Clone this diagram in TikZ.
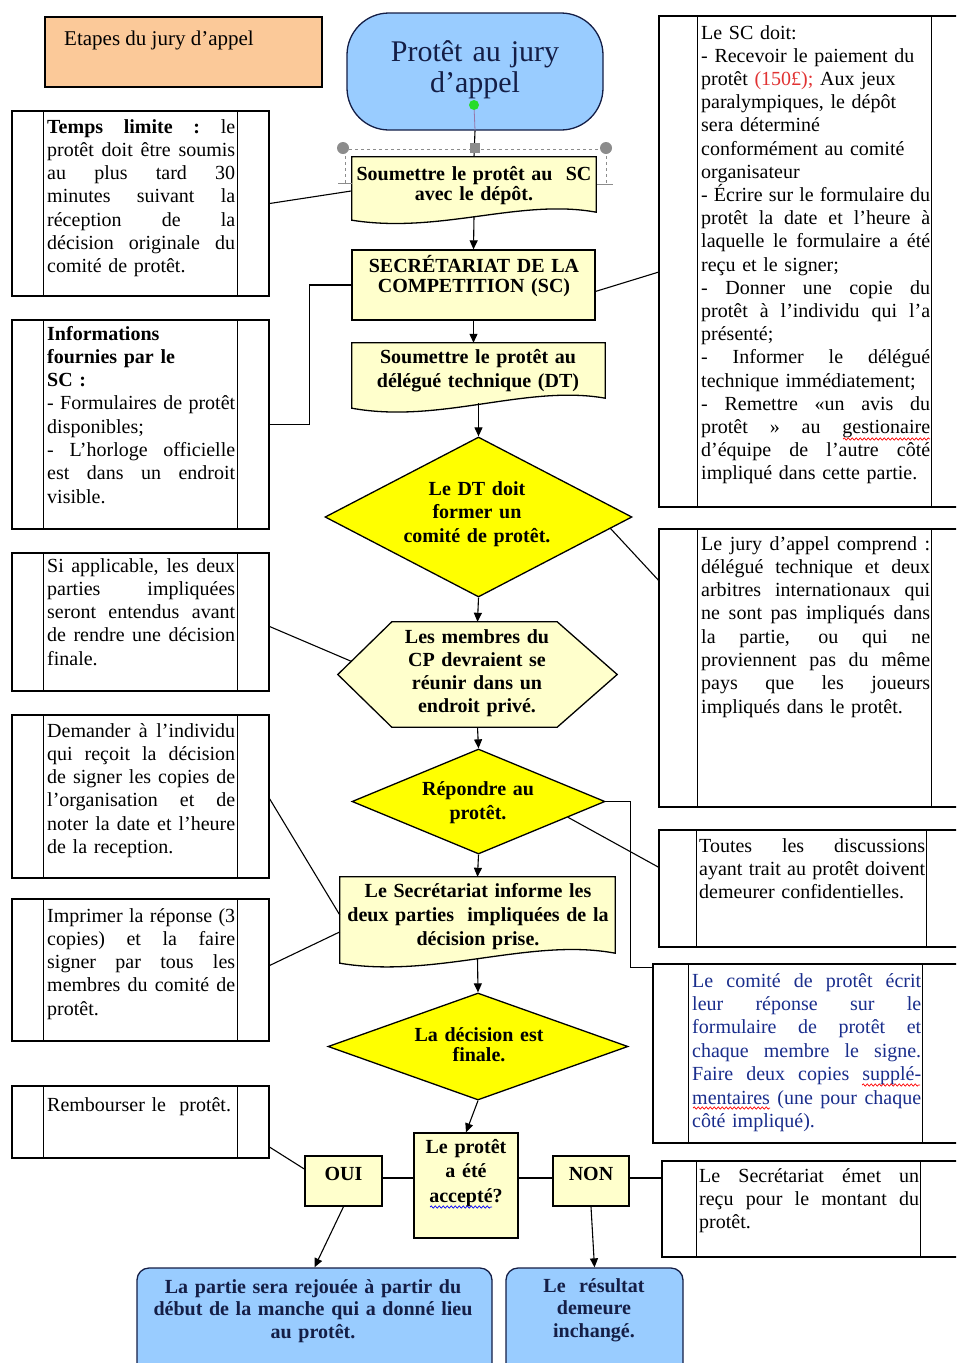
\documentclass[tikz,border=0pt]{standalone}
\usepackage{fontspec}
\setmainfont{Liberation Serif}
\usetikzlibrary{arrows.meta,calc,shapes.geometric,decorations.pathmorphing}
\definecolor{lyel}{RGB}{255,255,204}
\definecolor{dyel}{RGB}{255,255,0}
\definecolor{lblue}{RGB}{153,204,255}
\definecolor{peach}{RGB}{251,201,153}
\definecolor{navy}{RGB}{20,30,70}
\definecolor{bluetxt}{RGB}{25,45,140}
\definecolor{redtxt}{RGB}{225,50,50}
\definecolor{hdlgray}{RGB}{140,140,140}
\definecolor{gdotcol}{RGB}{40,220,40}
\definecolor{violet}{RGB}{150,120,170}
\newcommand\fsz[2]{\fontsize{#1}{#2}\selectfont}
\def\jwid{188pt}
\newcommand\jl[1]{\leavevmode\hbox to \jwid{\spaceskip=0.25em plus 1fil\relax\xspaceskip=0.25em plus 1fil\relax #1}}
\tikzset{
  shp/.style={draw=black, line width=1.3pt, fill=lyel, inner sep=0pt},
  dia/.style={diamond, draw=black, line width=1.3pt, fill=dyel, inner sep=0pt},
  bluebox/.style={draw=navy, line width=1.3pt, fill=lblue, rounded corners=12pt, inner sep=0pt},
  notebox/.style={draw=black, line width=1.2pt, fill=white, inner sep=0pt},
  notel/.style={line width=1.2pt},
  ntext/.style={anchor=base west, inner sep=0pt, align=left, text width=#1, font=\fsz{20}{23.3}, execute at begin node={\def\jwid{#1}}},
  ctext/.style 2 args={anchor=base, inner sep=0pt, align=center, text width=#2, font=\bfseries\fsz{20}{#1}},
  conn/.style={draw=black, line width=1.1pt},
  arr/.style={conn, -{Triangle[length=9pt,width=8pt]}},
  hdl/.style={draw=hdlgray, line width=0.8pt},
  redwave/.style={draw=red, line width=0.7pt, decorate, decoration={snake, amplitude=1.1pt, segment length=4pt}},
  bluewave/.style={draw=blue, line width=0.7pt, decorate, decoration={snake, amplitude=1.1pt, segment length=4pt}},
}
\begin{document}
\begin{tikzpicture}[x=1pt,y=-1pt]
\useasboundingbox (0,0) rectangle (956,1363);
\fill[white] (0,0) rectangle (956,1363);
\clip (0,0) rectangle (956,1363);

% ---------- title ----------
\node[draw=black, line width=1.3pt, fill=peach, minimum width=277, minimum height=70, inner sep=0pt] (title) at (183.5,52) {};
\node[anchor=base west, inner sep=0pt, font=\fsz{21}{24}] (titlet) at (64,45) {Etapes du jury d’appel};

% ---------- start ----------
\node[draw=navy, line width=1.3pt, fill=lblue, rounded corners=42pt, minimum width=256, minimum height=117, inner sep=0pt] (start) at (475,71.5) {};
\node[anchor=base, inner sep=0pt, align=center, text width=250pt, font=\fsz{30}{31}, text=navy] (startt) at (475,61) {Protêt au jury\\d’appel};

% ---------- central column ----------
\node[inner sep=0pt, minimum width=244, minimum height=55] (b1) at (474,184.5) {};
\draw[shp] (b1.north west) -- (b1.north east) -- (b1.south east) .. controls +(-76,-14) and +(88,14) .. ([yshift=-8pt]b1.south west) -- cycle;
\node[ctext={20}{240pt}] (b1t) at (474,180) {Soumettre le protêt au~ SC\\avec le dépôt.};

\node[shp, minimum width=243, minimum height=70] (b2) at (473.5,285) {};
\node[ctext={20}{240pt}] (b2t) at (474,272) {SECRÉTARIAT DE LA\\COMPETITION (SC)};

\node[inner sep=0pt, minimum width=253, minimum height=55] (b3) at (478.5,370.5) {};
\draw[shp] (b3.north west) -- (b3.north east) -- (b3.south east) .. controls +(-79,-14) and +(88,16) .. ([yshift=-10pt]b3.south west) -- cycle;
\node[ctext={24}{250pt}] (b3t) at (478,363) {Soumettre le protêt au\\délégué technique (DT)};

\node[dia, minimum width=307, minimum height=160] (d1) at (478.5,517) {};
\node[ctext={23.5}{200pt}] (d1t) at (477,495) {Le DT doit\\former un\\comité de protêt.};

\node[inner sep=0pt, minimum width=279, minimum height=105] (hx) at (477.5,674.5) {};
\draw[shp] (hx.west) -- ([xshift=54pt]hx.north west) -- ([xshift=-60pt]hx.north east) -- (hx.east) -- ([xshift=-60pt]hx.south east) -- ([xshift=54pt]hx.south west) -- cycle;
\node[ctext={23}{200pt}] (hxt) at (477,643) {Les membres du\\CP devraient se\\réunir dans un\\endroit privé.};

\node[dia, minimum width=253, minimum height=105] (d2) at (478.5,801.5) {};
\node[ctext={24.5}{180pt}] (d2t) at (478,795) {Répondre au\\protêt.};

\node[inner sep=0pt, minimum width=275, minimum height=76] (b5) at (477.5,915) {};
\draw[shp] (b5.north west) -- (b5.north east) -- (b5.south east) .. controls +(-85,-16) and +(95,16) .. ([yshift=-10pt]b5.south west) -- cycle;
\node[ctext={24}{272pt}] (b5t) at (478,897) {Le Secrétariat informe les\\deux parties~ impliquées de la\\décision prise.};

\node[dia, minimum width=300, minimum height=107] (d3) at (478,1046.5) {};
\node[ctext={20.5}{200pt}] (d3t) at (479,1041) {La décision est\\finale.};

\node[shp, minimum width=104, minimum height=105] (acc) at (466,1185.5) {};
\node[ctext={24.5}{100pt}] (acct) at (466,1153) {Le protêt\\a été\\accepté?};

\node[shp, minimum width=77, minimum height=50] (oui) at (343.5,1181) {};
\node[ctext={20}{70pt}] (ouit) at (343.5,1180) {OUI};
\node[shp, minimum width=76, minimum height=50] (non) at (591,1181) {};
\node[ctext={20}{70pt}] (nont) at (591,1180) {NON};

\node[bluebox, minimum width=355, minimum height=110] (bl1) at (314.5,1323) {};
\node[ctext={22.5}{350pt}, text=navy] (bl1t) at (313,1293) {La partie sera rejouée à partir du\\début de la manche qui a donné lieu\\au protêt.};
\node[bluebox, minimum width=177, minimum height=110] (bl2) at (594.5,1323) {};
\node[ctext={22.5}{170pt}, text=navy] (bl2t) at (594,1292) {Le~ résultat\\demeure\\inchangé.};

% ---------- left notes ----------
\node[notebox, minimum width=257, minimum height=185] (tb) at (140.5,203.5) {};
\node[notebox, minimum width=257, minimum height=209] (ib) at (140.5,424.5) {};
\node[notebox, minimum width=257, minimum height=138] (sb) at (140.5,622) {};
\node[notebox, minimum width=257, minimum height=163] (db) at (140.5,796.5) {};
\node[notebox, minimum width=257, minimum height=142] (pb) at (140.5,970) {};
\node[notebox, minimum width=257, minimum height=72] (rb) at (140.5,1122) {};
\foreach \n in {tb,ib,sb,db,pb,rb}{
  \draw[notel] ([xshift=32pt]\n.north west) -- ([xshift=32pt]\n.south west);
  \draw[notel] ([xshift=-32pt]\n.north east) -- ([xshift=-32pt]\n.south east);
}
\node[ntext=188pt] (tbt) at (47,133) {\jl{\textbf{Temps limite :} le}\\\jl{protêt doit être soumis}\\\jl{au plus tard 30}\\\jl{minutes suivant la}\\\jl{réception de la}\\\jl{décision originale du}\\comité de protêt.};
\node[ntext=188pt] (ibt) at (47,340) {\textbf{Informations}\\\textbf{fournies par le}\\\textbf{SC :}\\\jl{- Formulaires de protêt}\\disponibles;\\\jl{- L’horloge officielle}\\\jl{est dans un endroit}\\visible.};
\node[ntext=188pt] (sbt) at (47,572) {\jl{Si applicable, les deux}\\\jl{parties impliquées}\\\jl{seront entendus avant}\\\jl{de rendre une décision}\\finale.};
\node[ntext=188pt] (dbt) at (47,737) {\jl{Demander à l’individu}\\\jl{qui reçoit la décision}\\\jl{de signer les copies de}\\\jl{l’organisation et de}\\\jl{noter la date et l’heure}\\de la reception.};
\node[ntext=188pt] (pbt) at (47,922) {\jl{Imprimer la réponse (3}\\\jl{copies) et la faire}\\\jl{signer par tous les}\\\jl{membres du comité de}\\protêt.};
\node[ntext=188pt] (rbt) at (47,1111) {Rembourser le~ protêt.};

% ---------- right notes ----------
\node[notebox, minimum width=303, minimum height=491] (r1) at (810.5,261.5) {};
\node[notebox, minimum width=303, minimum height=278] (r2) at (810.5,668) {};
\node[notebox, minimum width=303, minimum height=117] (r3) at (810.5,888.5) {};
\node[notebox, minimum width=309, minimum height=179] (r4) at (807.5,1053.5) {};
\node[notebox, minimum width=300, minimum height=96] (r5) at (812,1209) {};
\foreach \n/\a/\b in {r1/39/273,r2/39/273,r3/38/268,r4/36/270,r5/35/259}{
  \draw[notel] ([xshift=\a pt]\n.north west) -- ([xshift=\a pt]\n.south west);
  \draw[notel] ([xshift=\b pt]\n.north west) -- ([xshift=\b pt]\n.south west);
}
\node[ntext=229pt, font=\fsz{20}{23.2}] (r1t) at (701,39) {Le SC doit:\\- Recevoir le paiement du\\protêt \textcolor{redtxt}{(150£);} Aux jeux\\paralympiques, le dépôt\\sera déterminé\\conformément au comité\\organisateur\\\jl{- Écrire sur le formulaire du}\\\jl{protêt la date et l’heure à}\\\jl{laquelle le formulaire a été}\\reçu et le signer;\\\jl{- Donner une copie du}\\\jl{protêt à l’individu qui l’a}\\présenté;\\\jl{- Informer le délégué}\\technique immédiatement;\\\jl{- Remettre «un avis du}\\\jl{protêt » au gestionaire}\\\jl{d’équipe de l’autre côté}\\impliqué dans cette partie.};
\node[ntext=229pt] (r2t) at (701,550) {\jl{Le jury d’appel comprend :}\\\jl{délégué technique et deux}\\\jl{arbitres internationaux qui}\\\jl{ne sont pas impliqués dans}\\\jl{la partie, ou qui ne}\\\jl{proviennent pas du même}\\\jl{pays que les joueurs}\\impliqués dans le protêt.};
\node[ntext=226pt] (r3t) at (699,852) {\jl{Toutes les discussions}\\\jl{ayant trait au protêt doivent}\\demeurer confidentielles.};
\node[ntext=229pt, font=\fsz{20}{23.4}, text=bluetxt] (r4t) at (692,987) {\jl{Le comité de protêt écrit}\\\jl{leur réponse sur le}\\\jl{formulaire de protêt et}\\\jl{chaque membre le signe.}\\\jl{Faire deux copies supplé-}\\\jl{mentaires (une pour chaque}\\côté impliqué).};
\node[ntext=220pt, font=\fsz{20}{23}] (r5t) at (699,1182) {\jl{Le Secrétariat émet un}\\\jl{reçu pour le montant du}\\protêt.};

% spell-check wavy underlines
\draw[redwave] (843,439) -- (930,439);
\draw[redwave] (862,1085) -- (920,1085);
\draw[redwave] (693,1108) -- (770,1108);
\draw[bluewave] (430,1207) -- (492,1207);

% ---------- selection handles ----------
\draw[hdl, dashed] (343,149) -- (606,149);
\draw[hdl, dashed] (345,150) -- (345,183);
\draw[hdl] (338,183) -- (352,183);
\draw[hdl, dashed] (606,150) -- (606,184);
\draw[hdl] (597,184) -- (613,184);
\draw[violet, line width=0.8pt] (474,105) -- (start.south);

% ---------- connectors ----------
\draw[conn] (start.south) -- (b1.north);
\draw[arr] ([yshift=-4pt]b1.south) -- (b2.north);
\draw[arr] (b2.south) -- (b2.south |- b3.north);
\draw[arr] ([yshift=-5pt]b3.south) -- (d1.north);
\draw[arr] (d1.south) -- (hx.north);
\draw[arr] (hx.south) -- (d2.north);
\draw[arr] (d2.south) -- (b5.north);
\draw[arr] ([yshift=-5pt]b5.south) -- (d3.north);
\draw[arr] (d3.south) -- (acc.north);
\draw[arr] (oui.south) -- (bl1.north);
\draw[arr] (non.south) -- (bl2.north);
\draw[conn] ([yshift=3pt]oui.east) -- ([yshift=3pt]oui.east -| acc.west);
\draw[conn] ([yshift=3pt]non.west) -- ([yshift=3pt]non.west -| acc.east);
\draw[conn] ([yshift=3pt]non.east) -- ([yshift=3pt]non.east -| r5.west);

\coordinate (hxl) at ($(hx.west)!0.25!([xshift=54pt]hx.north west)$);
\draw[conn] (tb.east) -- (b1.183);
\draw[conn] (b2.west) -- ++(-42,0) |- (ib.east);
\draw[conn] (b2.-3) -- (r1.184);
\draw[conn] (d1.-5) -- (r2.150);
\draw[conn] (sb.-2) -- (hxl);
\draw[conn] (db.-1.5) -- (b5.west);
\draw[conn] (pb.2) -- (b5.187);
\draw[conn] (d2.-10.6) -- (r3.172);
\draw[conn] (d2.east) -- ++(25,0) |- ([yshift=-4pt]r4.north west);
\draw[conn] (rb.-11) -- (oui.163);

% handle markers on top
\fill[hdlgray] (343,148) circle (6pt);
\fill[hdlgray] (606,148) circle (6pt);
\fill[hdlgray] (470,143) rectangle (480,153);
\fill[gdotcol] (474,105) circle (5pt);
\end{tikzpicture}
\end{document}
